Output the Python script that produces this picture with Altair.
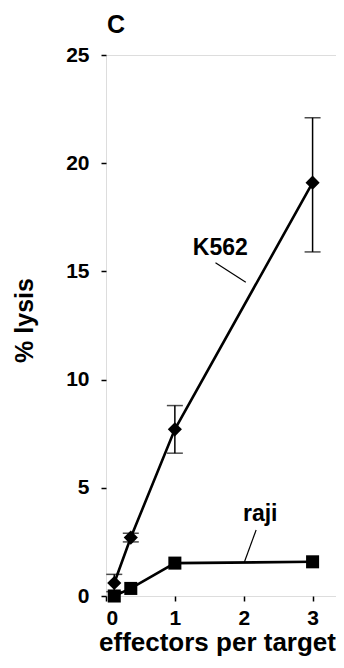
import altair as alt
import pandas as pd

ratio = [0.12, 0.36, 1, 3]
k562 = [0.6, 2.7, 7.7, 19.1]
k562_lo = [0.2, 2.5, 6.6, 15.9]
k562_hi = [1.0, 2.9, 8.8, 22.1]
raji = [0.0, 0.35, 1.52, 1.58]

label_text = ["K562", "raji"]
label_x = [1.66, 2.24]
label_y = [16.1, 3.8]
leader_x = [1.59, 2.18]
leader_x2 = [2.03, 2.01]
leader_y = [15.4, 3.05]
leader_y2 = [14.5, 1.57]

FONT = "Liberation Sans"

k_df = pd.DataFrame({"x": ratio, "y": k562, "lo": k562_lo, "hi": k562_hi})
r_df = pd.DataFrame({"x": ratio, "y": raji})
lab_df = pd.DataFrame({"t": label_text, "x": label_x, "y": label_y})
lead_df = pd.DataFrame({"x": leader_x, "x2": leader_x2, "y": leader_y, "y2": leader_y2})
panel_df = pd.DataFrame({"t": ["C"]})

xs = alt.Scale(domain=[0, 3.34], nice=False, zero=False)
ys = alt.Scale(domain=[0, 25], nice=False)

X = alt.X("x:Q", scale=xs, axis=alt.Axis(
    title="effectors per target", values=[0, 1, 2, 3], format="d",
    grid=False, domain=False, tickColor="black", tickSize=5, tickWidth=1.5,
    labelFont=FONT, labelFontSize=21, labelFontWeight="bold", labelColor="black",
    labelPadding=6, titleFont=FONT, titleFontSize=26, titleFontWeight="bold",
    titleColor="black", titlePadding=1, titleX=111))
Y = alt.Y("y:Q", scale=ys, axis=alt.Axis(
    title="% lysis", values=[0, 5, 10, 15, 20, 25],
    grid=False, domain=False, tickColor="black", tickSize=5, tickWidth=1.5,
    labelFont=FONT, labelFontSize=21, labelFontWeight="bold", labelColor="black",
    labelPadding=12, titleFont=FONT, titleFontSize=25, titleFontWeight="bold",
    titleColor="black", titlePadding=28, titleY=265))

k_line = alt.Chart(k_df).mark_line(color="black", strokeWidth=2.6).encode(x=X, y=Y)
k_pts = alt.Chart(k_df).mark_point(shape="diamond", filled=True, color="black",
                                     size=200, opacity=1).encode(x=X, y=Y)
k_err = alt.Chart(k_df).mark_rule(color="black", strokeWidth=1.5).encode(
    x=X, y=alt.Y("lo:Q", scale=ys), y2="hi:Q")
k_cap_hi = alt.Chart(k_df).mark_tick(color="black", thickness=1.5, size=16,
                                     orient="horizontal").encode(
    x=X, y=alt.Y("hi:Q", scale=ys))
k_cap_lo = alt.Chart(k_df).mark_tick(color="black", thickness=1.5, size=16,
                                     orient="horizontal").encode(
    x=X, y=alt.Y("lo:Q", scale=ys))

r_line = alt.Chart(r_df).mark_line(color="black", strokeWidth=2.6).encode(x=X, y=Y)
r_pts = alt.Chart(r_df).mark_point(shape="square", filled=True, color="black",
                                     size=170, opacity=1).encode(x=X, y=Y)

labels = alt.Chart(lab_df).mark_text(font=FONT, fontSize=23, fontWeight="bold",
                                     color="black", baseline="middle").encode(
    x=X, y=Y, text="t:N")
leaders = alt.Chart(lead_df).mark_rule(color="black", strokeWidth=1.2).encode(
    x=X, x2="x2:Q", y=Y, y2="y2:Q")

panel = alt.Chart(panel_df).mark_text(font=FONT, fontSize=25, fontWeight="bold",
                                      color="black", align="left",
                                      baseline="alphabetic").encode(
    x=alt.value(1), y=alt.value(-22), text="t:N")

chart = alt.layer(
    k_line, r_line, k_err, k_cap_hi, k_cap_lo, k_pts, r_pts, labels, leaders, panel
).properties(
    width=230, height=541,
    padding={"left": 98, "top": 47, "right": 0, "bottom": 60},
    autosize=alt.AutoSizeParams(type="none"),
).configure_view(stroke="black", strokeWidth=2.2).configure(background="white")

chart.save("out.html", embed_options={"renderer": "svg", "actions": False})
